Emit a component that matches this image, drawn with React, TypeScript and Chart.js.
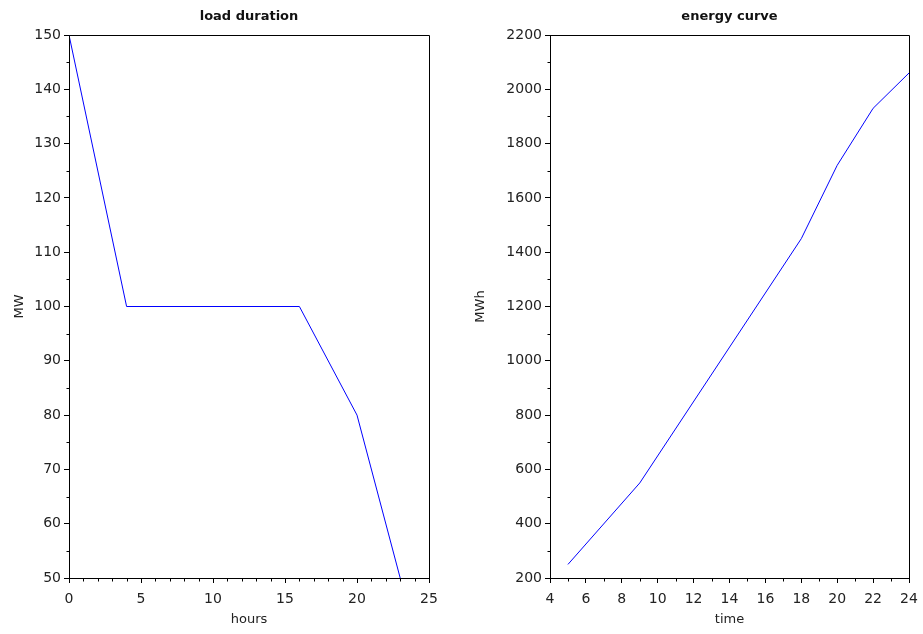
import React, { useEffect, useRef } from "react";
import { Chart, registerables } from "chart.js";

Chart.register(...registerables);

// ---- data ----
const loadHours = [0, 4, 16, 20, 23];
const loadMW = [150, 100, 100, 80, 50];

const energyTime = [5, 9, 18, 20, 22, 24];
const energyMWh = [250, 550, 1450, 1720, 1930, 2060];

// axis ranges / tick steps
const loadXRange = [0, 25, 5];
const loadYRange = [50, 150, 10];
const energyXRange = [4, 24, 2];
const energyYRange = [200, 2200, 200];

// minor tick positions
const loadMinorX = [1, 2, 3, 4, 6, 7, 8, 9, 11, 12, 13, 14, 16, 17, 18, 19, 21, 22, 23, 24];
const loadMinorY = [55, 65, 75, 85, 95, 105, 115, 125, 135, 145];
const energyMinorX = [5, 7, 9, 11, 13, 15, 17, 19, 21, 23];
const energyMinorY = [300, 500, 700, 900, 1100, 1300, 1500, 1700, 1900, 2100];

const FONT = "'DejaVu Sans', sans-serif";

const framePlugin = {
  id: "frameMinor",
  afterDraw(chart: any, _args: any, opts: any) {
    const { ctx, chartArea, scales } = chart;
    const { left, top, right, bottom } = chartArea;
    ctx.save();
    ctx.strokeStyle = "#000";
    ctx.lineWidth = 1;
    const l = Math.round(left) + 0.5;
    const t = Math.round(top) + 0.5;
    const r = Math.round(right) + 0.5;
    const b = Math.round(bottom) + 0.5;
    ctx.beginPath();
    ctx.moveTo(l, t);
    ctx.lineTo(r, t);
    ctx.lineTo(r, b);
    ctx.lineTo(l, b);
    ctx.closePath();
    for (const v of opts.x || []) {
      const px = Math.round(scales.x.getPixelForValue(v)) + 0.5;
      ctx.moveTo(px, b);
      ctx.lineTo(px, b + 3);
    }
    for (const v of opts.y || []) {
      const py = Math.round(scales.y.getPixelForValue(v)) + 0.5;
      ctx.moveTo(l, py);
      ctx.lineTo(l - 3, py);
    }
    ctx.stroke();
    ctx.restore();
  },
};

type PanelProps = {
  width: number;
  left: number;
  title: string;
  xTitle: string;
  yTitle: string;
  xs: number[];
  ys: number[];
  xRange: number[];
  yRange: number[];
  minorX: number[];
  minorY: number[];
  yAxisWidth: number;
  padRight: number;
};

function Panel(p: PanelProps) {
  const ref = useRef<HTMLCanvasElement | null>(null);
  useEffect(() => {
    if (!ref.current) return;
    const data = p.xs.map((x, i) => ({ x, y: p.ys[i] }));
    const chart = new Chart(ref.current, {
      type: "line",
      data: {
        datasets: [
          {
            data,
            borderColor: "#0000ff",
            borderWidth: 1,
            pointRadius: 0,
            tension: 0,
            fill: false,
          },
        ],
      },
      options: {
        responsive: false,
        animation: false,
        layout: { padding: { left: 0, right: p.padRight, top: 0, bottom: 0 } },
        plugins: {
          legend: { display: false },
          tooltip: { enabled: false },
          title: {
            display: true,
            text: p.title,
            fullSize: false,
            color: "#111",
            font: { family: FONT, size: 13, weight: "bold", lineHeight: 1.2 },
            padding: { top: 8.5, bottom: 10.9 },
          },
          frameMinor: { x: p.minorX, y: p.minorY },
        } as any,
        scales: {
          x: {
            type: "linear",
            min: p.xRange[0],
            max: p.xRange[1],
            afterFit: (s: any) => {
              s.height = 56;
              s.paddingLeft = 0;
              s.paddingRight = 0;
            },
            ticks: {
              stepSize: p.xRange[2],
              color: "#222",
              font: { family: FONT, size: 14 },
              padding: 8,
              maxRotation: 0,
              autoSkip: false,
              callback: (v: any) => String(v),
            },
            grid: {
              drawOnChartArea: false,
              drawTicks: true,
              tickLength: 5,
              color: "#000",
            },
            border: { display: true, color: "#000" },
            title: {
              display: true,
              text: p.xTitle,
              color: "#222",
              font: { family: FONT, size: 13 },
              padding: { top: 0, bottom: 6.2 },
            },
          },
          y: {
            type: "linear",
            min: p.yRange[0],
            max: p.yRange[1],
            afterFit: (s: any) => {
              s.width = p.yAxisWidth;
              s.paddingTop = 0;
              s.paddingBottom = 0;
            },
            ticks: {
              stepSize: p.yRange[2],
              color: "#222",
              font: { family: FONT, size: 14 },
              padding: 3,
              autoSkip: false,
              callback: (v: any) => String(v),
            },
            grid: {
              drawOnChartArea: false,
              drawTicks: true,
              tickLength: 5,
              color: "#000",
            },
            border: { display: true, color: "#000" },
            title: {
              display: true,
              text: p.yTitle,
              color: "#222",
              font: { family: FONT, size: 13 },
              padding: { top: 11.5, bottom: 0 },
            },
          },
        },
      } as any,
      plugins: [framePlugin],
    });
    return () => chart.destroy();
  }, []);
  return (
    <canvas
      ref={ref}
      width={p.width}
      height={634}
      style={{ position: "absolute", left: p.left, top: 0, width: p.width, height: 634, display: "block" }}
    />
  );
}

export default function App() {
  return (
    <div style={{ position: "absolute", left: 0, top: 0, width: 923, height: 634, background: "#fff" }}>
      <Panel
        width={461}
        left={0}
        title="load duration"
        xTitle="hours"
        yTitle="MW"
        xs={loadHours}
        ys={loadMW}
        xRange={loadXRange}
        yRange={loadYRange}
        minorX={loadMinorX}
        minorY={loadMinorY}
        yAxisWidth={69}
        padRight={32}
      />
      <Panel
        width={462}
        left={461}
        title="energy curve"
        xTitle="time"
        yTitle="MWh"
        xs={energyTime}
        ys={energyMWh}
        xRange={energyXRange}
        yRange={energyYRange}
        minorX={energyMinorX}
        minorY={energyMinorY}
        yAxisWidth={89}
        padRight={14}
      />
    </div>
  );
}
